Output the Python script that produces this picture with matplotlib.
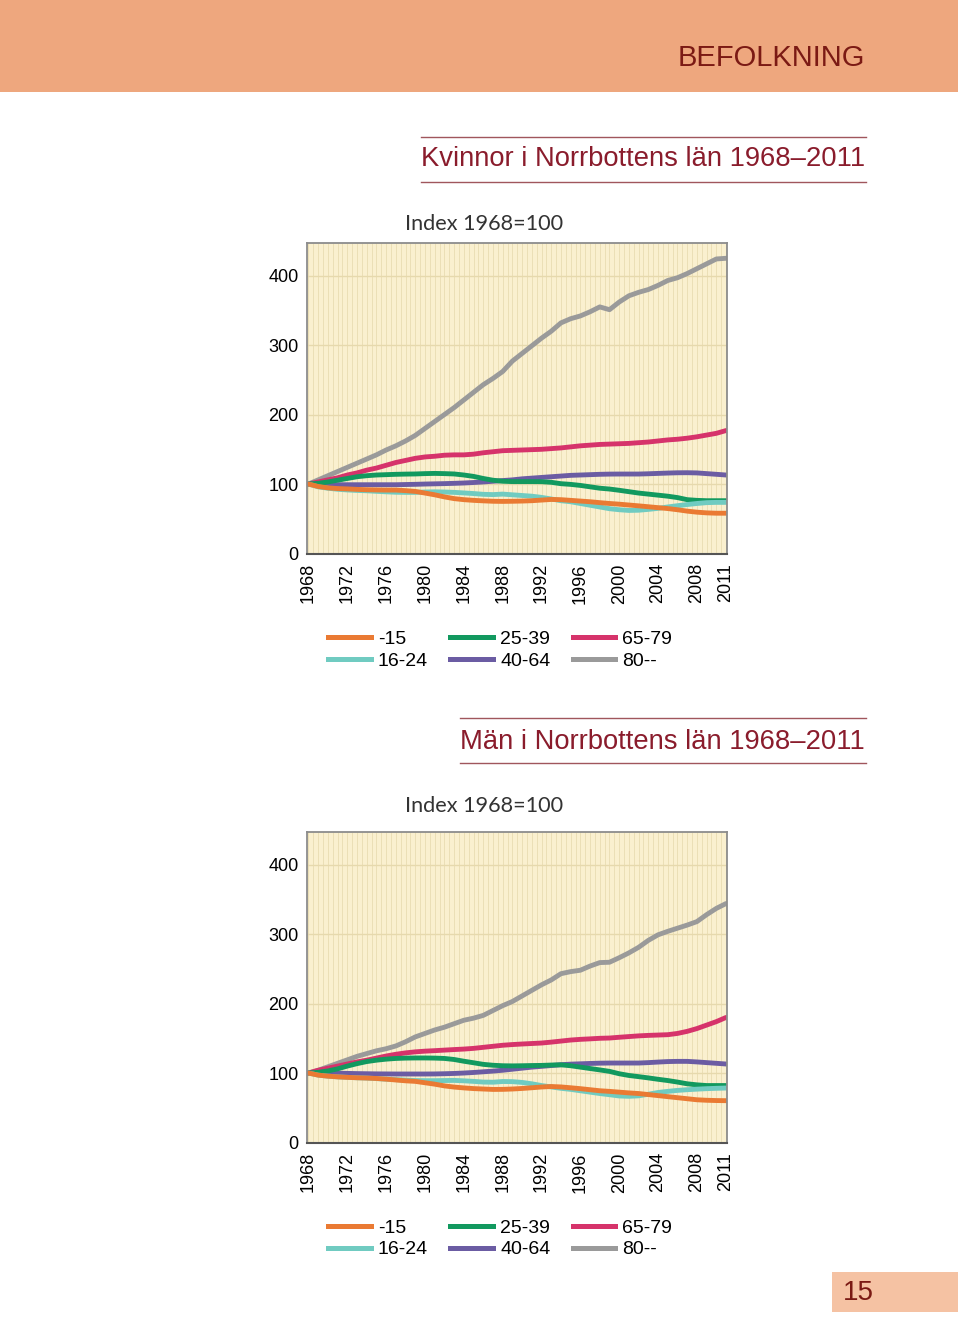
import numpy as np
import matplotlib.pyplot as plt
from matplotlib.patches import Rectangle
from matplotlib.lines import Line2D

plt.rcParams['font.family'] = ['Liberation Sans', 'DejaVu Sans']

W, H = 960, 1324

years = np.arange(1968, 2012)
year_ticks = [1968, 1972, 1976, 1980, 1984, 1988, 1992, 1996, 2000, 2004, 2008, 2011]
y_ticks = [0, 100, 200, 300, 400]

labels = ['-15', '16-24', '25-39', '40-64', '65-79', '80--']
colors = ['#ea7a33', '#70cbc1', '#12995f', '#6b5ca3', '#d6336b', '#9a9a9a']

# Kvinnor, index 1968=100
women_u15 = [100, 96.5, 94.5, 93.5, 93, 92.3, 91.8, 91.5, 91.3, 91.3,
             90.5, 89.4, 87, 84.5, 81.5, 79, 77.5, 76.5, 75.8, 75.2,
             75, 75.2, 75.5, 76, 76.9, 77.8, 77.5, 76.5, 75.5, 74.5,
             73.2, 72, 71, 69.8, 68.6, 67.3, 66, 64.7, 63, 61,
             59.5, 58.5, 58, 58]
women_16_24 = [100, 96, 94, 92.5, 91.5, 90.8, 90.3, 89.5, 88.8, 88.2,
               88, 88, 88.5, 88.8, 88.5, 88, 87.2, 86.3, 85.2, 84.8,
               85.5, 84.5, 83.5, 82.5, 80.8, 78.5, 76, 74.5, 72, 69.5,
               67, 64.5, 63, 62, 62.3, 63.5, 65, 67, 68.8, 70.5,
               72, 73.2, 73.6, 73.6]
women_25_39 = [100, 101, 103, 105.5, 108, 110.5, 112, 113, 113.5, 114,
               114.3, 114.5, 115, 115.3, 115, 114.5, 113, 111, 108, 105.5,
               104, 103.5, 103.5, 103.5, 103.4, 102.5, 100.5, 99.5, 98, 96,
               94, 92.8, 91, 89, 87, 85.5, 84, 82.5, 80.5, 77.5,
               76.5, 76, 76, 76]
women_40_64 = [100, 99.5, 99, 99, 99, 99, 99, 99, 99, 99,
               99.3, 99.6, 100, 100.3, 100.6, 101, 101.5, 102.2, 103, 104,
               105, 106, 107.5, 108.5, 109.5, 110.5, 111.5, 112.5, 113, 113.5,
               114, 114.3, 114.4, 114.4, 114.4, 114.8, 115.3, 115.8, 116.2, 116.3,
               116, 115, 114, 113]
women_65_79 = [100, 103, 106, 109, 113, 116, 120, 123, 127, 131,
               134, 137, 139, 140, 141.5, 142, 142, 143, 145, 146.5,
               148, 148.5, 149, 149.5, 150, 151, 152, 153.5, 155, 156,
               157, 157.5, 158, 158.5, 159.5, 160.5, 162, 163.5, 164.5, 166,
               168, 170.5, 173, 177]
women_80 = [100, 106, 112, 118, 124, 130, 136, 142, 149, 155,
            162, 170, 180, 190, 200, 210, 221, 232, 243, 252,
            262, 277, 288, 299, 310, 320, 332, 338, 342, 348,
            355, 351, 362, 371, 376, 380, 386, 393, 397, 403,
            410, 417, 424, 425]

# Män, index 1968=100
men_u15 = [100, 97, 95.5, 94.5, 93.8, 93.2, 92.8, 92.2, 91.2, 90,
           88.8, 88, 86, 84, 81.5, 79.8, 78.6, 77.6, 77, 76.4,
           76.5, 77, 77.8, 78.8, 79.9, 80.6, 80, 78.8, 77.5, 76,
           74.5, 73.6, 72.5, 71.4, 70.5, 69, 67.5, 66, 64.5, 63,
           61.5, 60.8, 60.4, 60.2]
men_16_24 = [100, 97, 95.5, 94.5, 93.8, 93.2, 92.8, 92, 91.2, 90.5,
             89.8, 89.2, 89, 89, 89.2, 89.4, 88.8, 88, 87, 86.8,
             87.8, 87.6, 86.5, 84.5, 82, 80, 78, 76.5, 74.5, 72.5,
             70.5, 68.8, 67, 66.5, 67.2, 69.5, 72, 73.6, 75, 76,
             76.8, 77.5, 78, 78.4]
men_25_39 = [100, 101, 103, 106, 110, 113.5, 116.5, 118.5, 120, 121,
             121.5, 121.7, 121.7, 121.5, 121, 119.5, 117, 114.8, 112.5, 111.2,
             110.5, 110.3, 110.5, 110.8, 111, 111.5, 111.8, 110.5, 108.5, 106.5,
             104.5, 102.4, 99, 96.5, 94.8, 93, 91, 89.2, 87, 84.5,
             83, 82, 82, 82]
men_40_64 = [100, 100, 100, 99.8, 99.5, 99.2, 99, 98.8, 98.7, 98.6,
             98.6, 98.6, 98.6, 98.7, 99, 99.4, 100, 100.8, 101.8, 102.8,
             104, 105.5, 107, 108.5, 109.6, 110.8, 112, 112.8, 113.3, 113.8,
             114.2, 114.4, 114.4, 114.4, 114.4, 115, 115.8, 116.5, 116.8, 116.8,
             116, 115, 114, 113]
men_65_79 = [100, 104, 107, 110, 113, 116, 118.5, 121.5, 124.5, 127,
             129, 130.5, 131.5, 132.2, 133, 133.8, 134.5, 135.5, 137, 138.5,
             140, 141, 141.8, 142.5, 143.2, 144.5, 146, 147.5, 148.5, 149.2,
             150, 150.4, 151.5, 152.5, 153.5, 154.2, 154.7, 155.2, 157, 160,
             164, 169, 174, 180]
men_80 = [100, 104, 109, 114, 119, 124, 128, 132, 135, 139,
          145, 152, 157, 162, 166, 171, 176, 179, 183, 190,
          197, 203, 211, 219, 227, 234, 243, 246, 248, 254,
          259, 259.5, 266, 273, 281, 291, 299, 304, 308.5, 313,
          318, 328, 337, 344]

women = [women_u15, women_16_24, women_25_39, women_40_64, women_65_79, women_80]
men = [men_u15, men_16_24, men_25_39, men_40_64, men_65_79, men_80]

title_red = '#8a1c2c'
dark_red = '#7b1a14'


def fx(x):
    return x / W


def fy(y):
    return 1 - y / H


def draw_panel(fig, top_px, series):
    left, right, bottom = 307, 727, top_px + 310.5
    ax = fig.add_axes([fx(left), fy(bottom), (right - left) / W, (bottom - top_px) / H])
    ax.set_facecolor('#faf0cf')
    ax.set_xlim(1967.85, 2011.1)
    ax.set_ylim(0, 447)
    ax.set_xticks(year_ticks)
    ax.set_xticklabels([str(y) for y in year_ticks], rotation=90, fontsize=13)
    ax.set_xticks(np.arange(1968, 2011.1, 0.5), minor=True)
    ax.set_yticks(y_ticks)
    ax.set_yticklabels([str(v) for v in y_ticks], fontsize=13)
    ax.tick_params(axis='both', which='both', length=0)
    ax.tick_params(axis='x', pad=7)
    ax.tick_params(axis='y', pad=6)
    ax.grid(axis='x', which='both', color='#ebdfb6', lw=0.7)
    ax.grid(axis='y', which='major', color='#e6d9ad', lw=1.0)
    ax.set_axisbelow(True)
    for s in ['top', 'right', 'left']:
        ax.spines[s].set_color('#8c8c8c')
        ax.spines[s].set_linewidth(1.3)
    ax.spines['bottom'].set_color('#555555')
    ax.spines['bottom'].set_linewidth(1.5)

    for i in [5, 4, 3, 2, 1, 0]:
        ax.plot(years, series[i], color=colors[i], lw=3.5,
                solid_capstyle='round', solid_joinstyle='round', label=labels[i])
    handles = [Line2D([], [], color=colors[i], lw=3.6, label=labels[i]) for i in range(6)]
    fig.legend(handles=handles, loc='upper left', ncol=3,
               bbox_to_anchor=(fx(328), fy(top_px + 387)),
               frameon=False, fontsize=14, handlelength=2.2,
               handletextpad=0.36, columnspacing=1.15, labelspacing=0.22,
               borderpad=0, borderaxespad=0)
    return ax


fig = plt.figure(figsize=(W / 100, H / 100), dpi=100)
fig.patch.set_facecolor('white')

# header band
fig.add_artist(Rectangle((0, fy(92)), fx(958), 92 / H, transform=fig.transFigure,
                         facecolor='#eea77e', edgecolor='none'))
fig.text(fx(865), fy(58.5), 'BEFOLKNING', ha='right', va='center',
         fontsize=21, color=dark_red)

# chart 1
for yl in (137, 182):
    fig.add_artist(Line2D([fx(421), fx(866)], [fy(yl), fy(yl)], color='#a0565c', lw=1.0))
fig.text(fx(865), fy(159), 'Kvinnor i Norrbottens län 1968–2011', ha='right', va='center',
         fontsize=19.7, color=title_red)
fig.text(fx(405), fy(223.5), 'Index 1968=100', ha='left', va='center',
         fontsize=15.6, color='#333333', family=['Lato', 'DejaVu Sans'])
draw_panel(fig, 243, women)

# chart 2
for yl in (718, 763):
    fig.add_artist(Line2D([fx(460), fx(866)], [fy(yl), fy(yl)], color='#a0565c', lw=1.0))
fig.text(fx(865), fy(742), 'Män i Norrbottens län 1968–2011', ha='right', va='center',
         fontsize=19.7, color=title_red)
fig.text(fx(405), fy(806.5), 'Index 1968=100', ha='left', va='center',
         fontsize=15.6, color='#333333', family=['Lato', 'DejaVu Sans'])
draw_panel(fig, 832, men)

# page number
fig.add_artist(Rectangle((fx(832), fy(1312)), (958 - 832) / W, 40 / H,
                         transform=fig.transFigure, facecolor='#f5c2a3', edgecolor='none'))
fig.text(fx(843), fy(1293), '15', ha='left', va='center', fontsize=20, color=dark_red)

fig.savefig('out.png', dpi=100)
